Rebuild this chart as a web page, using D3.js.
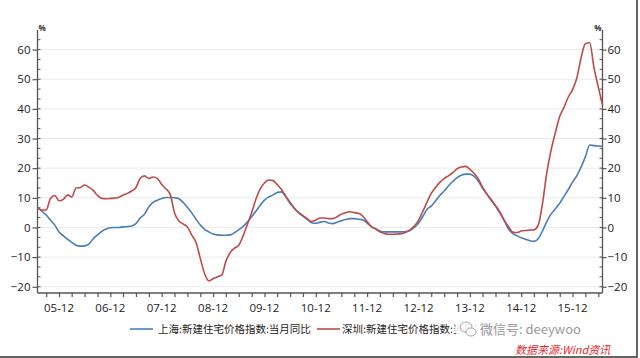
<!DOCTYPE html>
<html><head><meta charset="utf-8">
<script src="https://cdn.jsdelivr.net/npm/d3@7"></script>
<style>html,body{margin:0;padding:0;background:#fff;}svg{display:block;}</style>
</head><body>
<script>
// ---- data ----
const startMonth = new Date(2005, 6, 1);   // 2005-07
const endMonth = new Date(2016, 6, 1);     // 2016-07
const months = d3.timeMonth.range(startMonth, d3.timeMonth.offset(endMonth, 1));
const shanghai = [
  6.7, 5.5, 4.2, 2.5, 0.8, -1.5, -2.8, -4.0, -5.0, -6.0, -6.3, -6.2,
  -5.6, -3.8, -2.5, -1.3, -0.5, -0.1, 0, 0, 0.2, 0.3, 0.5, 1.3,
  3.2, 4.5, 7.0, 8.5, 9.2, 9.8, 10.1, 10.1, 10.0, 9.7, 8.5, 6.8,
  5.0, 2.8, 0.8, -0.6, -1.5, -2.2, -2.5, -2.6, -2.6, -2.5, -1.8, -0.8,
  0.3, 1.8, 3.6, 5.5, 7.5, 9.2, 10.3, 11.0, 11.8, 12.0, 10.5, 8.5,
  6.5, 5.0, 3.8, 2.7, 1.6, 1.4, 1.8, 2.0, 1.5, 1.3, 1.8, 2.3,
  2.7, 3.0, 3.0, 2.8, 2.5, 1.5, 0.2, -0.5, -1.2, -1.5, -1.5, -1.5,
  -1.5, -1.5, -1.4, -1.0, 0, 1.5, 3.8, 6.2, 7.2, 9.0, 10.8, 12.3,
  14.0, 15.5, 16.8, 17.6, 18.0, 18.0, 17.2, 15.5, 13.2, 11.2, 9.5, 7.2,
  5.0, 2.5, -0.5, -2.0, -2.8, -3.5, -4.0, -4.5, -4.7, -3.8, -1.2, 2.0,
  4.5, 6.3, 8.2, 10.5, 12.8, 15.3, 17.5, 20.5, 23.8, 27.8, 27.6, 27.5, 27.4
];
const shenzhen = [
  6.7, 5.9, 5.9, 9.8, 10.8, 9.0, 9.5, 11.0, 10.3, 13.3, 13.5, 14.3,
  13.6, 12.5, 10.8, 9.8, 9.7, 9.8, 9.9, 10.2, 10.9, 11.5, 12.3, 13.5,
  16.5, 17.4, 16.5, 17.0, 16.5, 14.5, 13.0, 11.0, 5.0, 2.2, 1.2, 0.2,
  -2.5, -5.0, -10.5, -15.5, -18.0, -17.3, -16.6, -16.0, -11.5, -8.5, -7.0, -6.0,
  -3.0, 1.0, 5.0, 9.5, 13.0, 15.0, 16.0, 15.8, 14.5, 12.8, 10.5, 8.2,
  6.5, 5.0, 4.0, 3.0, 2.0, 2.5, 3.2, 3.2, 3.0, 3.0, 3.6, 4.5,
  5.0, 5.3, 5.0, 4.8, 3.8, 2.0, 0.3, -0.5, -1.5, -2.0, -2.3, -2.3,
  -2.2, -2.1, -1.6, -0.8, 0.5, 2.5, 5.5, 8.8, 11.5, 13.5, 15.2, 16.5,
  17.4, 18.5, 19.8, 20.4, 20.6, 19.6, 18.2, 16.2, 13.6, 11.3, 9.2, 7.4,
  5.3, 2.5, 0.3, -1.5, -1.7, -1.2, -1.0, -0.9, -0.8, 0.8, 8.0, 18.5,
  26.0, 32.0, 37.5, 40.5, 44.0, 46.5, 50.5, 57.5, 62.0, 62.3, 54.0, 47.4, 41.3
];
const xTickLabels = ["05-12","06-12","07-12","08-12","09-12","10-12","11-12","12-12","13-12","14-12","15-12"];
const yTicks = [-20, -10, 0, 10, 20, 30, 40, 50, 60];
const seriesNames = ["上海:新建住宅价格指数:当月同比", "深圳:新建住宅价格指数:当月同比"];
const seriesColors = ["#4a7ebb", "#be4b48"];

// ---- layout ----
const W = 640, H = 358;
const L = 37.5, R = 602.5, T = 30, B = 293;
const svg = d3.select("body").append("svg").attr("width", W).attr("height", H);
const numFont = "'Open Sans','DejaVu Sans',sans-serif";
const cjkFont = "'Noto Sans CJK SC','Noto Sans',sans-serif";
const axisColor = "#555";

const x = d3.scaleTime().domain([startMonth, endMonth]).range([L, R]);
const y = d3.scaleLinear().domain([-22.1, 66.6]).range([B, T]);

// gridlines
svg.append("g").selectAll("line").data(yTicks).join("line")
  .attr("x1", L).attr("x2", R)
  .attr("y1", d => y(d)).attr("y2", d => y(d))
  .attr("stroke", "#ebebeb").attr("stroke-width", 1);

// minor y ticks values
const minorY = [];
for (let v = -20; v <= 66; v += 10 / 3) minorY.push(v);

// left axis
const gl = svg.append("g").attr("transform", `translate(${L},0)`);
gl.call(d3.axisLeft(y).tickValues(yTicks).tickSize(5).tickPadding(2).tickFormat(d3.format("d")));
gl.append("g").selectAll("line").data(minorY).join("line")
  .attr("x1", 0).attr("x2", 3).attr("y1", d => y(d)).attr("y2", d => y(d))
  .attr("stroke", axisColor);
// right axis
const gr = svg.append("g").attr("transform", `translate(${R},0)`);
gr.call(d3.axisRight(y).tickValues(yTicks).tickSize(4).tickPadding(1).tickFormat(d3.format("d")));
gr.append("g").selectAll("line").data(minorY).join("line")
  .attr("x1", 0).attr("x2", -3).attr("y1", d => y(d)).attr("y2", d => y(d))
  .attr("stroke", axisColor);

[gl, gr].forEach(g => {
  g.select(".domain").attr("d", `M0,${T}V${B}`).attr("stroke", axisColor).attr("stroke-width", 1.3);
  g.selectAll(".tick line").attr("stroke", axisColor).attr("stroke-width", 1.2);
  g.selectAll(".tick text").attr("font-family", numFont).attr("font-size", 11.5).attr("fill", "#222");
});

// x axis
const quarterTicks = months.filter(d => d.getMonth() % 3 === 2);
const decTicks = months.filter(d => d.getMonth() === 11);
const gx = svg.append("g").attr("transform", `translate(0,${B})`);
gx.call(d3.axisBottom(x).tickValues(quarterTicks).tickSize(4).tickFormat(""));
gx.select(".domain").attr("d", `M${L},0H${R}`).attr("stroke", axisColor).attr("stroke-width", 1.3);
gx.selectAll(".tick line").attr("stroke", axisColor).attr("stroke-width", 1.2);
gx.append("g").selectAll("text").data(decTicks).join("text")
  .attr("x", d => x(d)).attr("y", 19)
  .attr("text-anchor", "middle")
  .attr("font-family", numFont).attr("font-size", 11.5).attr("fill", "#222")
  .text((d, i) => xTickLabels[i]);

// percent labels
svg.append("text").attr("x", L + 1).attr("y", T + 1).attr("font-family", numFont)
  .attr("font-size", 8).attr("font-weight", "bold").attr("fill", "#333").text("%");
svg.append("text").attr("x", R - 1).attr("y", T + 1).attr("text-anchor", "end").attr("font-family", numFont)
  .attr("font-size", 8).attr("font-weight", "bold").attr("fill", "#333").text("%");

// lines
const line = d3.line().x((d, i) => x(months[i])).y(d => y(d)).curve(d3.curveMonotoneX);
[shanghai, shenzhen].forEach((s, k) => {
  svg.append("path").datum(s).attr("d", line)
    .attr("fill", "none").attr("stroke", seriesColors[k]).attr("stroke-width", 1.6)
    .attr("stroke-linejoin", "round");
});

// legend
const legY = 329;
const legItems = [{x: 130, tx: 158}, {x: 317, tx: 342}];
legItems.forEach((it, k) => {
  svg.append("line").attr("x1", it.x).attr("x2", it.x + 23).attr("y1", legY).attr("y2", legY)
    .attr("stroke", seriesColors[k]).attr("stroke-width", 1.6);
  svg.append("text").attr("x", it.tx).attr("y", legY + 4).attr("font-family", cjkFont)
    .attr("font-size", 10.5).attr("fill", "#222").text(seriesNames[k]);
});

// watermark (overlays the end of the legend, as in the source image)
svg.append("rect").attr("x", 478).attr("y", 320).attr("width", 128).attr("height", 18)
  .attr("fill", "#fff").attr("opacity", 0.92);
svg.append("ellipse").attr("cx", 468).attr("cy", 329).attr("rx", 13).attr("ry", 11)
  .attr("fill", "#fff").attr("opacity", 0.9);
const wm = svg.append("g").attr("transform", "translate(468,329)").attr("fill", "none").attr("stroke", "#aaa").attr("stroke-width", 1);
wm.append("ellipse").attr("cx", -2).attr("cy", -2).attr("rx", 6).attr("ry", 5);
wm.append("ellipse").attr("cx", 3).attr("cy", 3).attr("rx", 5).attr("ry", 4).attr("fill", "#fff");
svg.append("text").attr("x", 480).attr("y", 334).attr("font-family", cjkFont)
  .attr("font-size", 13).attr("fill", "#9a9a9a").text("微信号: deeywoo");
svg.append("text").attr("x", 515).attr("y", 354).attr("font-family", cjkFont)
  .attr("font-size", 11).attr("font-style", "italic").attr("fill", "#e8262b").text("数据来源:Wind资讯");

// frame
svg.append("path").attr("d", `M637,0V357H0`).attr("fill", "none").attr("stroke", "#333").attr("stroke-width", 1.5);
</script>
</body></html>
